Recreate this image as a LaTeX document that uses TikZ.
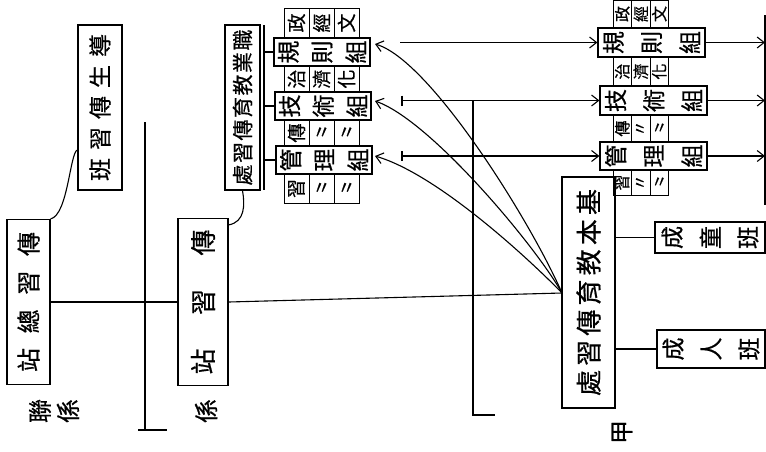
\documentclass[tikz,border=0pt]{standalone}
\usepackage{fontspec}
\newfontfamily\cjk[FakeBold=0.6]{Noto Sans CJK TC}
\usetikzlibrary{arrows.meta}
\newcommand{\rt}[3]{\rotatebox{90}{\fontsize{#1}{#1}\selectfont\makebox[#2][s]{#3}}}
\newcommand{\rc}[2]{\rotatebox{90}{\fontsize{#1}{#1}\selectfont #2}}
\newcommand{\hf}{\hfill{}}
\begin{document}
\begin{tikzpicture}[x=1pt,y=-1pt,
  box/.style={draw,line width=1.2pt,inner sep=0pt,font=\cjk},
  cell/.style={draw,line width=1pt,inner sep=0pt,font=\cjk},
  ln/.style={line width=1.1pt},
  arr/.style={line width=1.1pt,-{Straight Barb[length=7pt,width=11pt]}},
  lbl/.style={inner sep=0pt,font=\cjk}]
\useasboundingbox (0,0) rectangle (766,451);
% left part
\node[box,minimum width=43pt,minimum height=165pt] (A) at (28.5,302) {\rt{24}{140pt}{站\hf{}總\hf{}習\hf{}傳}};
\node[box,minimum width=44pt,minimum height=165pt] (B) at (100,107.5) {\rt{23}{147pt}{班\hf{}習\hf{}傳\hf{}生\hf{}導}};
\node[lbl] (L1) at (57,411) {\rotatebox{90}{\fontsize{24}{26}\selectfont\begin{tabular}{@{}c@{}}聯\\係\end{tabular}}};
\coordinate (v1t) at (145,122);
\coordinate (v1b) at (145,430);
\draw[ln] (v1t) -- (v1b);
\draw[ln] (v1b) ++(-7,0) -- ++(29,0);
\node[box,minimum width=50pt,minimum height=167pt] (C) at (203,302) {\rt{26}{145pt}{站\hf{}習\hf{}傳}};
\node[lbl] (L2) at (206,411) {\rc{24}{係}};
\node[box,minimum width=35pt,minimum height=165pt] (D) at (242.5,107.5) {\rt{21}{156pt}{處\hf{}習\hf{}傳\hf{}育\hf{}教\hf{}業\hf{}職}};
\draw[ln] (A.north east) .. controls (68,215) and (70,152) .. (B.south west |- 0,150);
\draw[ln] (C.north east) ++(0,7) .. controls (245,222) and (245,205) .. (D.south);
% left column of groups
\coordinate (bt) at (264,25);
\coordinate (bb) at (264,190);
\draw[ln] (bt) -- (bb);
\node[box,minimum width=96pt,minimum height=28pt] (E1) at (322,52) {\fontsize{23}{23}\selectfont\makebox[88pt][s]{\rc{23}{規}\hf\rc{23}{則}\hf\rc{23}{組}}};
\node[box,minimum width=96pt,minimum height=28pt] (E2) at (323,106) {\fontsize{23}{23}\selectfont\makebox[88pt][s]{\rc{23}{技}\hf\rc{23}{術}\hf\rc{23}{組}}};
\node[box,minimum width=96pt,minimum height=28pt] (E3) at (324,160) {\fontsize{23}{23}\selectfont\makebox[88pt][s]{\rc{23}{管}\hf\rc{23}{理}\hf\rc{23}{組}}};
\draw[ln] (E1.west) -- (E1.west -| bt);
\draw[ln] (E2.west) -- (E2.west -| bt);
\draw[ln] (E3.west) -- (E3.west -| bt);
% cells left
\node[cell,minimum width=25pt,minimum height=30pt] (a1) at (296.5,23) {\rc{19}{政}};
\node[cell,minimum width=25pt,minimum height=30pt] (a2) at (321.5,23) {\rc{19}{經}};
\node[cell,minimum width=25pt,minimum height=30pt] (a3) at (346.5,23) {\rc{19}{文}};
\node[cell,minimum width=25pt,minimum height=26pt] (b1) at (296.5,79) {\rc{19}{治}};
\node[cell,minimum width=25pt,minimum height=26pt] (b2) at (321.5,79) {\rc{19}{濟}};
\node[cell,minimum width=25pt,minimum height=26pt] (b3) at (346.5,79) {\rc{19}{化}};
\node[cell,minimum width=25pt,minimum height=26pt] (c1) at (296.5,133) {\rc{19}{傳}};
\node[cell,minimum width=25pt,minimum height=26pt] (c2) at (321.5,133) {\fontsize{18}{18}\selectfont 〃};
\node[cell,minimum width=25pt,minimum height=26pt] (c3) at (346.5,133) {\fontsize{18}{18}\selectfont 〃};
\node[cell,minimum width=25pt,minimum height=29pt] (d1) at (296.5,188.5) {\rc{19}{習}};
\node[cell,minimum width=25pt,minimum height=29pt] (d2) at (321.5,188.5) {\fontsize{18}{18}\selectfont 〃};
\node[cell,minimum width=25pt,minimum height=29pt] (d3) at (346.5,188.5) {\fontsize{18}{18}\selectfont 〃};
% right column of groups
\node[box,minimum width=107pt,minimum height=29pt] (F1) at (651.5,42.5) {\fontsize{23}{23}\selectfont\makebox[97pt][s]{\rc{23}{規}\hf\rc{23}{則}\hf\rc{23}{組}}};
\node[box,minimum width=107pt,minimum height=29pt] (F2) at (653.5,100.5) {\fontsize{23}{23}\selectfont\makebox[97pt][s]{\rc{23}{技}\hf\rc{23}{術}\hf\rc{23}{組}}};
\node[box,minimum width=107pt,minimum height=28pt] (F3) at (653.5,156) {\fontsize{23}{23}\selectfont\makebox[97pt][s]{\rc{23}{管}\hf\rc{23}{理}\hf\rc{23}{組}}};
\node[cell,minimum width=18.5pt,minimum height=28pt] (e1) at (622.3,14) {\rc{16}{政}};
\node[cell,minimum width=18.5pt,minimum height=28pt] (e2) at (640.8,14) {\rc{16}{經}};
\node[cell,minimum width=18.5pt,minimum height=28pt] (e3) at (659.3,14) {\rc{16}{文}};
\node[cell,minimum width=18.5pt,minimum height=29pt] (f1) at (622.3,71.5) {\rc{16}{治}};
\node[cell,minimum width=18.5pt,minimum height=29pt] (f2) at (640.8,71.5) {\rc{16}{濟}};
\node[cell,minimum width=18.5pt,minimum height=29pt] (f3) at (659.3,71.5) {\rc{16}{化}};
\node[cell,minimum width=18.5pt,minimum height=27pt] (g1) at (622.3,128.5) {\rc{16}{傳}};
\node[cell,minimum width=18.5pt,minimum height=27pt] (g2) at (640.8,128.5) {\rc{16}{〃}};
\node[cell,minimum width=18.5pt,minimum height=27pt] (g3) at (659.3,128.5) {\fontsize{16}{16}\selectfont 〃};
\node[cell,minimum width=18.5pt,minimum height=25pt] (k1) at (622.3,182.5) {\rc{16}{習}};
\node[cell,minimum width=18.5pt,minimum height=25pt] (k2) at (640.8,182.5) {\rc{16}{〃}};
\node[cell,minimum width=18.5pt,minimum height=25pt] (k3) at (659.3,182.5) {\fontsize{16}{16}\selectfont 〃};
\coordinate (rt) at (765,15);
\coordinate (rb) at (765,205);
\draw[ln] (rt) -- (rb);
\draw[arr] (F1.east) -- (F1.east -| rt);
\draw[arr] (F2.east) -- (F2.east -| rt);
\draw[arr] (F3.east) -- (F3.east -| rt);
% horizontal feed lines
\coordinate (h1) at (400,42.5);
\coordinate (h2) at (402,100.5);
\coordinate (h3) at (402,156);
\draw[arr] (h1) -- (F1.west);
\draw[arr] (h2) -- (F2.west);
\draw[arr] (h3) -- (F3.west);
\draw[ln] (h2) ++(0,-5) -- ++(0,10);
\draw[ln] (h3) ++(0,-5) -- ++(0,10);
\coordinate (v2t) at (473,100.5);
\coordinate (v2b) at (473,415);
\draw[ln] (v2t) -- (v2b) -- ++(22,0);
% main office
\node[box,minimum width=53pt,minimum height=231pt] (G) at (588.5,292.5) {\rt{26}{207pt}{處\hf{}習\hf{}傳\hf{}育\hf{}教\hf{}本\hf{}基}};
\coordinate (P) at (562,293);
\draw[ln] (A.east) -- (C.west);
\draw[ln] (C.east) -- (P);
\coordinate (t1) at (375,44);
\coordinate (t2) at (375,101);
\coordinate (t3) at (375,156);
\draw[arr] (P) .. controls (530,220) and (430,60) .. (t1);
\draw[arr] (P) .. controls (535,245) and (430,120) .. (t2);
\draw[arr] (P) .. controls (535,265) and (440,175) .. (t3);
\node[box,minimum width=110pt,minimum height=31pt] (H1) at (710,237.5) {\fontsize{23}{23}\selectfont\makebox[97pt][s]{\rc{23}{成}\hf\rc{23}{童}\hf\rc{23}{班}}};
\node[box,minimum width=108pt,minimum height=38pt] (H2) at (711,349) {\fontsize{23}{23}\selectfont\makebox[97pt][s]{\rc{23}{成}\hf\rc{23}{人}\hf\rc{23}{班}}};
\draw[ln] (H1.west -| G.east) -- (H1.west);
\draw[ln] (H2.west -| G.east) -- (H2.west);
\node[lbl] (J) at (622,432) {\rc{24}{甲}};
\end{tikzpicture}
\end{document}
